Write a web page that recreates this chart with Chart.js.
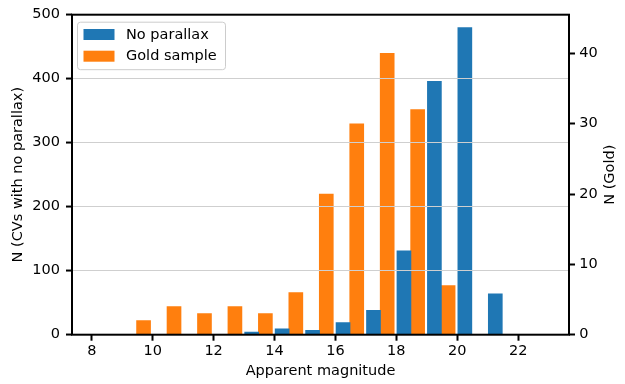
<!DOCTYPE html>
<html>
<head>
<meta charset="utf-8">
<script src="https://cdn.jsdelivr.net/npm/chart.js@4"></script>
<style>
  body { margin: 0; background: #fff; }
</style>
</head>
<body>
<canvas id="myChart" width="625" height="384"></canvas>
<script>
// bin centres (apparent magnitude) and counts
const noParallaxMag = [13.25, 14.25, 15.25, 16.25, 17.25, 18.25, 19.25, 20.25, 21.25];
const noParallaxCount = [4, 9, 7, 19, 38, 131, 396, 480, 64];
const goldMag = [9.7, 10.7, 11.7, 12.7, 13.7, 14.7, 15.7, 16.7, 17.7, 18.7, 19.7];
const goldCount = [2, 4, 3, 4, 3, 6, 20, 30, 40, 32, 7];

const magTicks = [8, 10, 12, 14, 16, 18, 20, 22];
const leftTicks = [0, 100, 200, 300, 400, 500];
const rightTicks = [0, 10, 20, 30, 40];

const FONT = 'DejaVu Sans';
Chart.defaults.font.family = FONT;
Chart.defaults.font.size = 14.5;
Chart.defaults.color = '#000';

const toPoints = (xs, ys) => xs.map((x, i) => ({x: x, y: ys[i]}));
const setTicks = list => scale => { scale.ticks = list.map(v => ({value: v})); };

// spines, right-hand title and the legend box inside the plot
const extras = {
  id: 'extras',
  afterDraw(chart) {
    const ctx = chart.ctx;
    const a = chart.chartArea;
    ctx.save();
    ctx.strokeStyle = '#000';
    ctx.lineWidth = 2;
    ctx.strokeRect(a.left, a.top, a.right - a.left, a.bottom - a.top);

    ctx.font = '14.5px "' + FONT + '"';
    ctx.fillStyle = '#000';
    ctx.save();
    ctx.translate(610.7, (a.top + a.bottom) / 2);
    ctx.rotate(-Math.PI / 2);
    ctx.textAlign = 'center';
    ctx.textBaseline = 'middle';
    ctx.fillText('N (Gold)', 0, 0);
    ctx.restore();

    // legend
    const lx = a.left + 5.5, ly = a.top + 7.5;
    ctx.beginPath();
    ctx.roundRect(lx, ly, 148, 47.5, 3);
    ctx.fillStyle = 'rgba(255,255,255,0.8)';
    ctx.fill();
    ctx.strokeStyle = '#cccccc';
    ctx.lineWidth = 1;
    ctx.stroke();
    ctx.textAlign = 'left';
    ctx.textBaseline = 'middle';
    chart.data.datasets.forEach((ds, i) => {
      const rowY = ly + 12.3 + i * 21.7;
      ctx.fillStyle = ds.backgroundColor;
      ctx.fillRect(lx + 6, rowY - 5.5, 31, 11);
      ctx.fillStyle = '#000';
      ctx.fillText(ds.label, lx + 48.5, rowY + 0.5);
    });
    ctx.restore();
  }
};

const data = {
  datasets: [{
    label: 'No parallax',
    data: toPoints(noParallaxMag, noParallaxCount),
    backgroundColor: '#1f77b4',
    yAxisID: 'y'
  }, {
    label: 'Gold sample',
    data: toPoints(goldMag, goldCount),
    backgroundColor: '#ff7f0e',
    yAxisID: 'y1'
  }]
};

const config = {
  type: 'bar',
  data: data,
  options: {
    responsive: false,
    animation: false,
    devicePixelRatio: 1,
    layout: { padding: { top: 11, left: 0, right: 0, bottom: 0 } },
    datasets: { bar: { grouped: false, barThickness: 14 } },
    plugins: { legend: { display: false }, tooltip: { enabled: false } },
    scales: {
      x: {
        type: 'linear',
        min: 7.35,
        max: 23.67,
        offset: false,
        afterBuildTicks: setTicks(magTicks),
        afterFit: s => { s.height = 49.3; },
        ticks: { padding: 2 },
        grid: { offset: false, drawOnChartArea: false, tickLength: 6, tickColor: '#000', tickWidth: 2 },
        border: { display: false },
        title: { display: true, text: 'Apparent magnitude', padding: { top: 0, bottom: 3.6 } }
      },
      y: {
        position: 'left',
        min: 0,
        max: 500,
        afterBuildTicks: setTicks(leftTicks),
        afterFit: s => { s.width = 72; },
        ticks: { padding: 6 },
        grid: { z: 1, color: '#cfcfcf', lineWidth: 1.1, tickLength: 6, tickColor: '#000', tickWidth: 2 },
        border: { display: false },
        title: { display: true, text: 'N (CVs with no parallax)', padding: { top: 9.6, bottom: 0 } }
      },
      y1: {
        position: 'right',
        min: 0,
        max: 45.5,
        afterBuildTicks: setTicks(rightTicks),
        afterFit: s => { s.width = 56; },
        ticks: { padding: 4.3 },
        grid: { drawOnChartArea: false, tickLength: 6, tickColor: '#000', tickWidth: 2 },
        border: { display: false }
      }
    }
  },
  plugins: [extras]
};

const myChart = new Chart(document.getElementById('myChart'), config);
</script>
</body>
</html>
